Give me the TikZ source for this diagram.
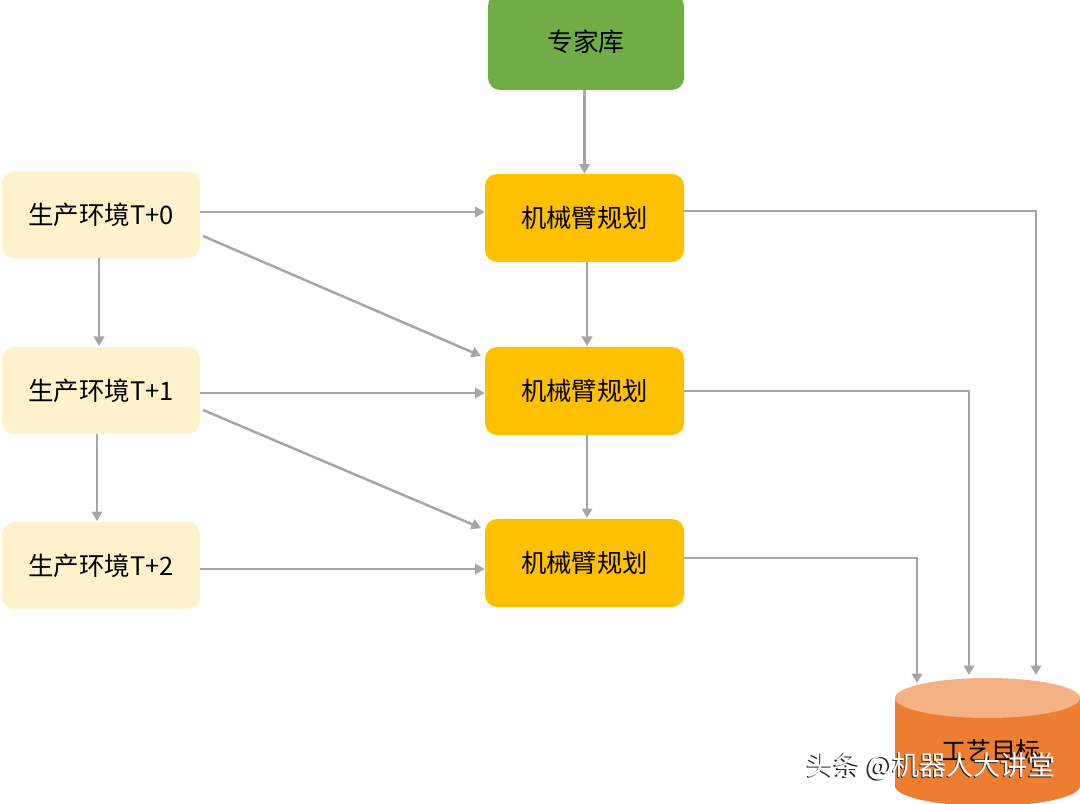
\documentclass[tikz,border=0pt]{standalone}
\usepackage{fontspec}
\setmainfont{Noto Sans CJK SC}
\usetikzlibrary{arrows.meta}
\definecolor{lightbox}{HTML}{FFF2CC}
\definecolor{midbox}{HTML}{FFC000}
\definecolor{greenbox}{HTML}{70AD47}
\definecolor{cylbody}{HTML}{ED7D31}
\definecolor{cyltop}{HTML}{F4B183}
\definecolor{arrgray}{HTML}{A6A6A6}
\tikzset{
  envbox/.style={draw=none, fill=lightbox, rounded corners=12*0.02cm, minimum width=198*0.02cm, minimum height=87*0.02cm, font=\fontsize{14.5pt}{16pt}\selectfont, inner sep=0pt},
  planbox/.style={draw=none, fill=midbox, rounded corners=12*0.02cm, minimum width=199*0.02cm, minimum height=88*0.02cm, font=\fontsize{14.4pt}{16pt}\selectfont, inner sep=0pt},
  libbox/.style={draw=none, fill=greenbox, rounded corners=12*0.02cm, minimum width=196*0.02cm, minimum height=96*0.02cm, font=\fontsize{14.6pt}{16pt}\selectfont, inner sep=0pt},
  conn/.style={draw=arrgray, line width=2.5*0.02cm, -{Triangle[length=0.19cm, width=0.21cm]}},
  wmark/.style={font=\fontsize{15.4pt}{17pt}\selectfont},
}
\begin{document}
\begin{tikzpicture}[x=0.02cm, y=-0.02cm]
\useasboundingbox (0,0) rectangle (1080,804);
% boxes
\node[libbox] (lib) at (586,42) {专家库};
\node[envbox] (e0) at (101,215) {生产环境T+0};
\node[envbox] (e1) at (101,390.5) {生产环境T+1};
\node[envbox] (e2) at (101,565.5) {生产环境T+2};
\node[planbox] (p0) at (584.5,218) {机械臂规划};
\node[planbox] (p1) at (584.5,391) {机械臂规划};
\node[planbox] (p2) at (584.5,563) {机械臂规划};
% cylinder
\fill[cylbody] (895,698) -- (895,786) arc[start angle=180, end angle=360, x radius=92.5, y radius=-20] -- (1080,698) -- cycle;
\fill[cyltop] (987.5,698) ellipse[x radius=92.5, y radius=20];
\node[font=\fontsize{14.2pt}{16pt}\selectfont] (goal) at (991,751) {工艺目标};
\coordinate (g0) at (1036,675);
\coordinate (g1) at (969,675);
\coordinate (g2) at (917,683);
\coordinate (c0) at (1036,211);
\coordinate (c1) at (969,391);
\coordinate (c2) at (917,558);
% connectors
\draw[conn] (lib.south -| p0) -- (p0.north);
\draw[conn] (e0.east |- 0,212) -- (p0.west |- 0,212);
\draw[conn] (e1.east |- 0,393) -- (p1.west |- 0,393);
\draw[conn] (e2.east |- 0,569) -- (p2.west |- 0,569);
\draw[conn] (203,236) -- (481,356);
\draw[conn] (203,410) -- (481,528);
\draw[conn] (99,258) -- (99,346);
\draw[conn] (97,434) -- (97,521);
\draw[conn] (587,262) -- (587,346);
\draw[conn] (587,435) -- (587,518);
\draw[conn] (p0.east |- c0) -- (c0) -- (g0);
\draw[conn] (p1.east |- c1) -- (c1) -- (g1);
\draw[conn] (p2.east |- c2) -- (c2) -- (g2);
% watermark
\node[wmark, text=black!85] at (929.5,767.5) {头条 @机器人大讲堂};
\node[wmark, text=white] (wm) at (931,766) {头条 @机器人大讲堂};
\end{tikzpicture}
\end{document}
